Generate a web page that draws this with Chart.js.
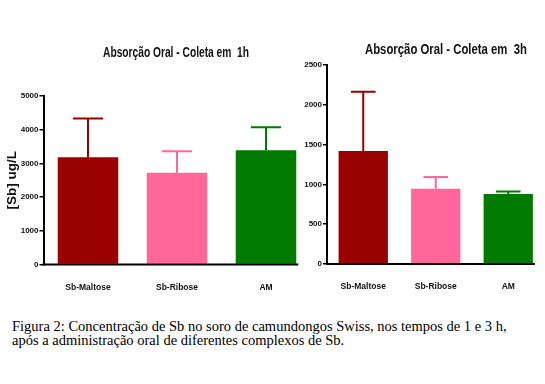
<!DOCTYPE html>
<html>
<head>
<meta charset="utf-8">
<script src="https://cdn.jsdelivr.net/npm/chart.js@4/dist/chart.umd.min.js"></script>
<style>
  html, body { margin: 0; padding: 0; background: #fff; }
  body { width: 545px; height: 384px; position: relative; overflow: hidden; }
  #c1 { position: absolute; left: 0; top: 0; }
  #c2 { position: absolute; left: 290px; top: 0; }
  #caption { position: absolute; left: 12px; top: 319px; font-family: 'Liberation Serif', 'Times New Roman', serif; font-size: 14.5px; line-height: 14px; color: #000; white-space: nowrap; }
</style>
</head>
<body>
<canvas id="c1" width="320" height="300"></canvas>
<canvas id="c2" width="255" height="300"></canvas>
<div id="caption">Figura 2: Concentração de Sb no soro de camundongos Swiss, nos tempos de 1 e 3 h,<br>após a administração oral de diferentes complexos de Sb.</div>
<script>
const categories = ['Sb-Maltose', 'Sb-Ribose', 'AM'];
const title1h = 'Absorção Oral - Coleta em  1h';
const title3h = 'Absorção Oral - Coleta em  3h';
const yTitle = '[Sb] ug/L';
const mean1h = [3180, 2720, 3390];
const err1h = [1150, 640, 680];
const mean3h = [1420, 945, 878];
const err3h = [745, 147, 33];
const yTicks1h = [0, 1000, 2000, 3000, 4000, 5000];
const yTicks3h = [0, 500, 1000, 1500, 2000, 2500];
const barColors = ['#990000', '#ff6699', '#007a00'];

const SANS = "'Liberation Sans', Arial, sans-serif";

const errorBars = {
  id: 'errorBars',
  afterDatasetsDraw(chart, args, opts) {
    const ctx = chart.ctx;
    const meta = chart.getDatasetMeta(0);
    const ys = chart.scales.y;
    const errs = opts.errs;
    const vals = chart.data.datasets[0].data;
    ctx.save();
    ctx.lineWidth = 2;
    meta.data.forEach((bar, i) => {
      const x = bar.x;
      const y0 = ys.getPixelForValue(vals[i]);
      const y1 = ys.getPixelForValue(vals[i] + errs[i]);
      const half = bar.width * 0.25;
      ctx.strokeStyle = barColors[i];
      ctx.beginPath();
      ctx.moveTo(x, y0);
      ctx.lineTo(x, y1);
      ctx.moveTo(x - half, y1);
      ctx.lineTo(x + half, y1);
      ctx.stroke();
    });
    const last = meta.data[meta.data.length - 1];
    const area = chart.chartArea;
    ctx.strokeStyle = '#000';
    ctx.lineWidth = 2;
    ctx.beginPath();
    ctx.moveTo(area.left - 1, ys.getPixelForValue(0));
    ctx.lineTo(last.x + last.width / 2 + 2, ys.getPixelForValue(0));
    ctx.stroke();
    // title, horizontally condensed to the reference width
    ctx.fillStyle = '#111';
    ctx.font = 'bold ' + opts.titleSize + 'px ' + SANS;
    const w = ctx.measureText(opts.title).width;
    const sx = opts.titleWidth / w;
    ctx.translate(opts.titleX, opts.titleY);
    ctx.scale(sx, 1);
    ctx.textAlign = 'center';
    ctx.textBaseline = 'middle';
    ctx.fillText(opts.title, 0, 0);
    ctx.restore();
  }
};

function makeChart(id, vals, errs, ticks, title, titleX, titleY, titleSize, titleWidth, pad, yWidth, xHeight, showYTitle) {
  return new Chart(document.getElementById(id), {
    type: 'bar',
    data: {
      labels: categories,
      datasets: [{
        data: vals,
        backgroundColor: barColors,
        borderWidth: 0,
        barPercentage: 0.68,
        categoryPercentage: 1.0
      }]
    },
    options: {
      responsive: false,
      animation: false,
      events: [],
      layout: { padding: pad },
      plugins: {
        legend: { display: false },
        tooltip: { enabled: false },
        title: { display: false },
        errorBars: { errs: errs, title: title, titleX: titleX, titleY: titleY, titleSize: titleSize, titleWidth: titleWidth }
      },
      scales: {
        x: {
          grid: { display: false, drawTicks: false },
          border: { display: false },
          ticks: { color: '#111', font: { family: SANS, size: 8.5, weight: 'bold' }, padding: 18 },
          afterFit(s) { s.height = xHeight; }
        },
        y: {
          min: 0,
          max: ticks[ticks.length - 1],
          afterBuildTicks(s) { s.ticks = ticks.map(v => ({ value: v })); },
          grid: { drawOnChartArea: false, drawTicks: true, tickLength: 4, color: '#000', lineWidth: 1.5 },
          border: { display: true, color: '#000', width: 2 },
          ticks: { color: '#111', font: { family: SANS, size: 8, weight: 'bold' }, padding: 1, callback: v => String(v) },
          title: { display: showYTitle, text: yTitle, color: '#111', font: { family: SANS, size: 13.5, weight: 'bold' }, padding: { top: 4, bottom: 0 } },
          afterFit(s) { s.width = yWidth; }
        }
      }
    },
    plugins: [errorBars]
  });
}

makeChart('c1', mean1h, err1h, yTicks1h, title1h, 176, 53, 14, 146,
  { left: 0, top: 96, right: 9.5, bottom: 0 }, 43.5, 35.5, true);
makeChart('c2', mean3h, err3h, yTicks3h, title3h, 446 - 290, 50, 14, 162,
  { left: 0, top: 65, right: 0.5, bottom: 0 }, 37, 36, false);
</script>
</body>
</html>
